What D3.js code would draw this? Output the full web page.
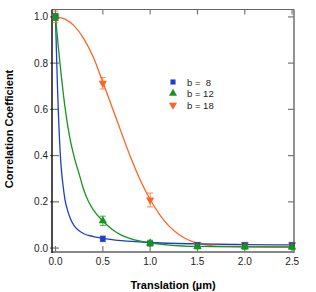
<!DOCTYPE html>
<html>
<head>
<meta charset="utf-8">
<script src="https://cdn.jsdelivr.net/npm/d3@7"></script>
<style>
  body { margin: 0; background: #fff; }
  svg { display: block; font-family: "Liberation Sans", Arial, sans-serif; }
  .lbl { font-size: 10px; fill: #222; }
  .ttl { font-size: 11px; font-weight: bold; fill: #000; }
  .leg { font-size: 9.5px; fill: #222; white-space: pre; }
</style>
</head>
<body>
<svg id="chart" width="316" height="292"></svg>
<script>
// measured points (translation in µm)
var xPts = [0, 0.5, 1.0, 1.5, 2.0, 2.5];
var b8  = [1.0, 0.04, 0.02, 0.013, 0.012, 0.012];
var b12 = [1.0, 0.118, 0.022, 0.006, 0.005, 0.004];
var b18 = [1.0, 0.713, 0.208, 0.015, 0.015, 0.015];
var err8  = [0.015, 0.012, 0.01, 0.01, 0.01, 0.01];
var err12 = [0.015, 0.02, 0.012, 0.01, 0.01, 0.01];
var err18 = [0.025, 0.025, 0.03, 0.01, 0.01, 0.01];

// fit curves
var fit8X  = [0, 0.01, 0.02, 0.03, 0.04, 0.05, 0.06, 0.08, 0.10, 0.13, 0.16, 0.2, 0.25, 0.3, 0.4, 0.5, 0.7, 1.0, 1.5, 2.0, 2.5];
var fit8Y  = [1.0, 0.85, 0.71, 0.59, 0.49, 0.41, 0.35, 0.27, 0.21, 0.16, 0.125, 0.095, 0.075, 0.062, 0.05, 0.042, 0.032, 0.024, 0.018, 0.015, 0.014];
var fit12X = [0, 0.03, 0.06, 0.1, 0.15, 0.2, 0.25, 0.3, 0.35, 0.4, 0.5, 0.6, 0.7, 0.8, 1.0, 1.2, 1.5, 2.0, 2.5];
var fit12Y = [1.0, 0.87, 0.75, 0.61, 0.48, 0.39, 0.32, 0.25, 0.2, 0.165, 0.117, 0.08, 0.055, 0.04, 0.023, 0.013, 0.007, 0.005, 0.004];
var fit18X = [0, 0.1, 0.2, 0.3, 0.4, 0.5, 0.6, 0.7, 0.8, 0.9, 1.0, 1.1, 1.2, 1.3, 1.4, 1.5, 1.6, 1.7, 2.0, 2.5];
var fit18Y = [1.0, 0.99, 0.96, 0.905, 0.825, 0.718, 0.607, 0.495, 0.386, 0.29, 0.21, 0.145, 0.095, 0.06, 0.036, 0.021, 0.013, 0.008, 0.006, 0.006];

var xTicks = [0, 0.5, 1.0, 1.5, 2.0, 2.5];
var yTicks = [0, 0.2, 0.4, 0.6, 0.8, 1.0];
var legendLabels = ["b =  8", "b = 12", "b = 18"];

var blue = "#1a3fcc", green = "#14961a", orange = "#ff6423";

var svg = d3.select("#chart");
var x = d3.scaleLinear().domain([-0.037, 2.52]).range([52, 294]);
var y = d3.scaleLinear().domain([-0.017, 1.032]).range([252, 9.5]);

// frame
var L = 52, R = 294, T = 9.5, B = 252;
svg.append("line").attr("x1", L).attr("x2", R).attr("y1", T).attr("y2", T).attr("stroke", "#666").attr("stroke-width", 1);
svg.append("line").attr("x1", R).attr("x2", R).attr("y1", T).attr("y2", B).attr("stroke", "#777").attr("stroke-width", 1.6);
svg.append("line").attr("x1", L).attr("x2", R + 0.8).attr("y1", B).attr("y2", B).attr("stroke", "#888").attr("stroke-width", 1.8);

// inner ticks
yTicks.forEach(function (v) {
  svg.append("line").attr("x1", L - 2).attr("x2", L + 7).attr("y1", y(v)).attr("y2", y(v)).attr("stroke", "#777").attr("stroke-width", 1.2);
  svg.append("line").attr("x1", R - 6).attr("x2", R).attr("y1", y(v)).attr("y2", y(v)).attr("stroke", "#777").attr("stroke-width", 1.2);
  svg.append("text").attr("class", "lbl").attr("x", L - 4).attr("y", y(v) + 3.5).attr("text-anchor", "end").text(d3.format(".1f")(v));
});
xTicks.forEach(function (v) {
  svg.append("line").attr("x1", x(v)).attr("x2", x(v)).attr("y1", B).attr("y2", B - 6).attr("stroke", "#777").attr("stroke-width", 1.2);
  svg.append("line").attr("x1", x(v)).attr("x2", x(v)).attr("y1", T).attr("y2", T + 5).attr("stroke", "#777").attr("stroke-width", 1.2);
  svg.append("text").attr("class", "lbl").attr("x", x(v)).attr("y", 265).attr("text-anchor", "middle").text(d3.format(".1f")(v));
});
svg.append("line").attr("x1", L).attr("x2", L).attr("y1", T).attr("y2", B + 1).attr("stroke", "#000").attr("stroke-width", 1.4);

// titles
svg.append("text").attr("class", "ttl").attr("x", 173).attr("y", 289).attr("text-anchor", "middle").text("Translation (µm)");
svg.append("text").attr("class", "ttl").attr("transform", "translate(13,129) rotate(-90)").attr("text-anchor", "middle").text("Correlation Coefficient");

// curves
var line = d3.line().x(function (d) { return x(d[0]); }).y(function (d) { return y(d[1]); }).curve(d3.curveMonotoneX);
function drawFit(xs, ys, col) {
  svg.append("path").datum(d3.zip(xs, ys)).attr("d", line).attr("fill", "none").attr("stroke", col).attr("stroke-width", 1.3);
}
drawFit(fit18X, fit18Y, orange);
drawFit(fit8X, fit8Y, blue);
drawFit(fit12X, fit12Y, green);

// points + error bars
var sq = d3.symbol().type(d3.symbolSquare).size(30);
var up = d3.symbol().type(d3.symbolTriangle).size(30);
function drawPts(vals, errs, col, sym, flip) {
  var g = svg.append("g");
  vals.forEach(function (v, i) {
    var cx = x(xPts[i]), e = errs[i];
    g.append("line").attr("x1", cx).attr("x2", cx).attr("y1", y(v + e)).attr("y2", y(v - e)).attr("stroke", col).attr("stroke-width", 1).attr("opacity", 0.75);
    [v + e, v - e].forEach(function (c) {
      g.append("line").attr("x1", cx - 3).attr("x2", cx + 3).attr("y1", y(c)).attr("y2", y(c)).attr("stroke", col).attr("stroke-width", 1).attr("opacity", 0.75);
    });
    g.append("path").attr("d", sym).attr("fill", col)
      .attr("transform", "translate(" + cx + "," + y(v) + ")" + (flip ? " rotate(180)" : ""));
  });
}
drawPts(b18, err18, orange, up, true);
drawPts(b8, err8, blue, sq, false);
drawPts(b12, err12, green, up, false);

// legend
var legCols = [blue, green, orange];
legendLabels.forEach(function (t, i) {
  var ly = 82 + i * 11.5;
  svg.append("path").attr("d", d3.symbol().type(i === 0 ? d3.symbolSquare : d3.symbolTriangle).size(i === 0 ? 26 : 28))
    .attr("fill", legCols[i]).attr("transform", "translate(173," + ly + ")" + (i === 2 ? " rotate(180)" : ""));
  svg.append("text").attr("class", "leg").attr("x", 187).attr("y", ly + 3.5).attr("xml:space", "preserve").text(t);
});
</script>
</body>
</html>
